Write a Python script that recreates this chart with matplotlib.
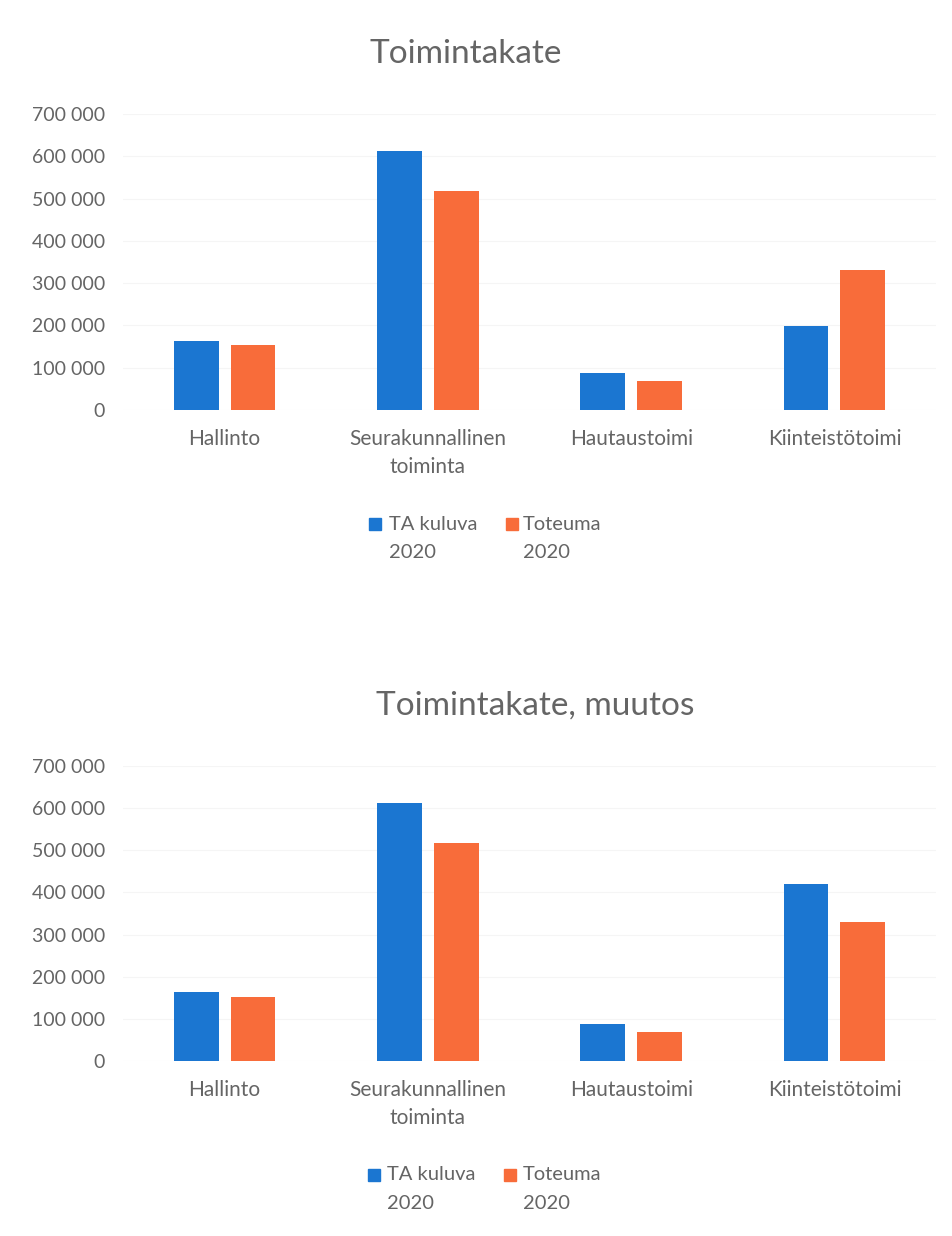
import numpy as np
import matplotlib.pyplot as plt
from matplotlib.lines import Line2D

plt.rcParams['font.family'] = ['Lato', 'DejaVu Sans']

# data
categories = ['Hallinto', 'Seurakunnallinen\ntoiminta', 'Hautaustoimi', 'Kiinteistötoimi']
series_names = ['TA kuluva\n2020', 'Toteuma\n2020']

ta_top = [164000, 612000, 88000, 199000]
tot_top = [154000, 518000, 69000, 331000]

ta_bottom = [163000, 613000, 88000, 420000]
tot_bottom = [153000, 518000, 69000, 331000]

yticks = [0, 100000, 200000, 300000, 400000, 500000, 600000, 700000]

blue = '#1B76D1'
orange = '#F86C3A'
grey = '#656565'

W, H = 952, 1236
fig = plt.figure(figsize=(W / 100, H / 100), dpi=100)


def fx(px):
    return px / W


def fy(px):
    return 1 - px / H


def draw(rect, title, title_xy, ta, tot, leg_y, leg_x):
    ax = fig.add_axes(rect)
    x = np.arange(len(categories))
    w = 0.22
    ax.bar(x - 0.14, ta, w, color=blue, zorder=3)
    ax.bar(x + 0.14, tot, w, color=orange, zorder=3)
    ax.set_xlim(-0.5, len(categories) - 0.5)
    ax.set_ylim(0, 700000)
    ax.set_yticks(yticks)
    ax.set_yticklabels([f'{v:,}'.replace(',', ' ') for v in yticks], fontsize=14)
    ax.set_xticks(x)
    ax.set_xticklabels(categories, fontsize=15, linespacing=1.45)
    ax.tick_params(length=0, labelcolor=grey)
    ax.tick_params(axis='y', pad=13)
    ax.tick_params(axis='x', pad=14)
    ax.yaxis.grid(True, color='#f5f5f5', lw=0.8, zorder=0)
    for s in ax.spines.values():
        s.set_visible(False)
    fig.text(fx(title_xy[0]), fy(title_xy[1]), title, ha='center', va='center',
             fontsize=24, color=grey)

    # legend: square next to the first line of each two-line label
    for name, col, (sq_x, tx_x) in zip(series_names, [blue, orange], leg_x):
        fig.add_artist(Line2D([fx(sq_x)], [fy(leg_y)], transform=fig.transFigure,
                              marker='s', ls='', color=col, markersize=8.5))
        for i, line in enumerate(name.split('\n')):
            fig.text(fx(tx_x), fy(leg_y + 28.5 * i), line, ha='left', va='center',
                     fontsize=14.5, color=grey)
    return ax


draw([fx(123), fy(410), fx(813), (410 - 114) / H], 'Toimintakate', (466, 54),
     ta_top, tot_top, 524, [(375, 389), (512, 523)])
draw([fx(123), fy(1061), fx(813), (1061 - 766) / H], 'Toimintakate, muutos', (535, 706),
     ta_bottom, tot_bottom, 1175, [(374, 387), (510, 523)])

fig.savefig('out.png', dpi=100)
